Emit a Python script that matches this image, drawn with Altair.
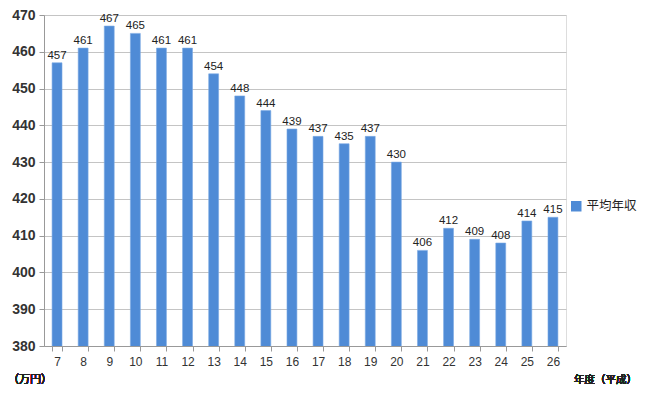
import altair as alt
import pandas as pd

years = ["7", "8", "9", "10", "11", "12", "13", "14", "15", "16", "17", "18", "19", "20", "21", "22", "23", "24", "25", "26"]
income = [457, 461, 467, 465, 461, 461, 454, 448, 444, 439, 437, 435, 437, 430, 406, 412, 409, 408, 414, 415]
y_ticks = [380, 390, 400, 410, 420, 430, 440, 450, 460, 470]
series_name = "平均年収"

df = pd.DataFrame({"year": years, "income": income, "series": [series_name] * len(years)})

FONT = "Liberation Sans, Noto Sans CJK JP"
BAR = "#4f8bd6"

base = alt.Chart(df)

x = alt.X("year:N", sort=years, title=None,
          scale=alt.Scale(paddingInner=0.62, paddingOuter=0.31),
          axis=alt.Axis(labelAngle=0, labelFontSize=12, labelColor="#333", labelFont=FONT,
                        tickBand="extent", tickSize=5, tickColor="#999", domainColor="#999",
                        labelPadding=5, grid=False, labelOverlap=False))
y = alt.Y("income:Q", title=None,
          scale=alt.Scale(domain=[380, 470], nice=False, zero=False),
          axis=alt.Axis(values=y_ticks, labelFontSize=14, labelFontWeight="bold",
                        labelColor="#333", labelFont=FONT, tickSize=5, tickColor="#999",
                        labelOverlap=False, labelFlush=False,
                        domainColor="#999", gridColor="#c4c4c4", gridWidth=1.2, labelPadding=4))

bars = base.mark_bar(stroke="#7aa9e4", strokeWidth=0.6, clip=True).encode(
    x=x, y=y,
    color=alt.Color("series:N", title=None,
                    scale=alt.Scale(range=[BAR]),
                    legend=alt.Legend(orient="none", legendX=526, legendY=185, symbolType="square",
                                      symbolSize=110, labelFontSize=12.5, labelFont=FONT,
                                      labelColor="#222", symbolStrokeWidth=0))
)

labels = base.mark_text(dy=-7, fontSize=11.5, font=FONT, color="#222").encode(
    x=x, y=y, text="income:Q"
)

unit = base.mark_text(align="left", baseline="bottom", fontSize=11, font=FONT, color="#222").encode(
    x=alt.value(-36), y=alt.value(370), text=alt.value("（万円）")
)
xtitle = base.mark_text(align="right", baseline="bottom", fontSize=10.5, font=FONT, color="#222").encode(
    x=alt.value(593), y=alt.value(370), text=alt.value("年度（平成）")
)

chart = alt.layer(bars, labels, unit, xtitle).properties(
    width=522, height=331,
    autosize=alt.AutoSizeParams(type="none"),
    padding={"left": 36, "top": 7, "right": 72, "bottom": 39}
).configure_view(stroke=None).configure(background="white")

chart.save("out.html", embed_options={"renderer": "svg", "actions": False})
